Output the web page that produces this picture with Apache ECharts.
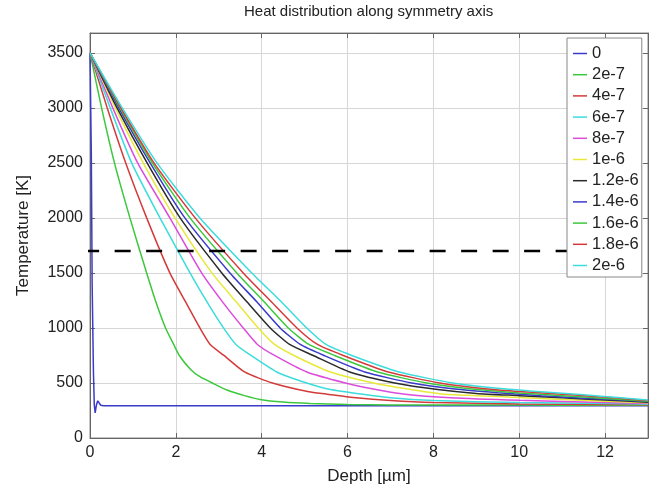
<!DOCTYPE html>
<html>
<head>
<meta charset="utf-8">
<title>Heat distribution along symmetry axis</title>
<script src="https://cdn.jsdelivr.net/npm/echarts@6/dist/echarts.min.js"></script>
<style>
  html, body { margin: 0; padding: 0; background: #fff; }
  #chart { width: 653px; height: 491px; }
</style>
</head>
<body>
<div id="chart"></div>
<script>
// legend labels (time of each profile) and matlab-ish line colours
const times = ['0', '2e-7', '4e-7', '6e-7', '8e-7', '1e-6', '1.2e-6', '1.4e-6', '1.6e-6', '1.8e-6', '2e-6'];
const colors = ['#3a3acb', '#3cc83c', '#d43a3a', '#3cdcdc', '#dc4cdc', '#e8e83a', '#2a2a2a', '#3a3acb', '#3cc83c', '#d43a3a', '#3cdcdc'];

// [depth µm, temperature K]
const t0 = [[0, 3500], [0.03, 2600], [0.05, 1400], [0.08, 600], [0.1, 300], [0.12, 228], [0.15, 300], [0.18, 338], [0.21, 320], [0.25, 298], [0.32, 293], [2, 293], [13, 293]];
const t2e7 = [[0, 3500], [0.27, 3000], [0.57, 2500], [0.93, 2000], [1.32, 1500], [1.55, 1220], [1.76, 1000], [1.95, 850], [2.08, 750], [2.35, 620], [2.56, 557], [2.9, 490], [3.19, 436], [3.6, 385], [3.96, 350], [4.5, 326], [5.13, 313], [6, 304], [7, 300], [8.5, 299], [10, 299], [12, 298], [13, 298]];
const t4e7 = [[0, 3500], [0.4, 3000], [0.83, 2500], [1.32, 2000], [1.86, 1500], [2.25, 1220], [2.56, 1000], [2.8, 850], [3.12, 750], [3.6, 600], [4.25, 500], [5.1, 420], [5.5, 400], [6.2, 365], [7, 340], [8, 322], [10, 310], [12, 305], [13, 302]];
const t6e7 = [[0, 3500], [0.47, 3000], [0.97, 2500], [1.63, 2000], [2.33, 1500], [2.75, 1220], [3.11, 1000], [3.4, 850], [3.75, 750], [4.35, 600], [5.05, 500], [5.6, 440], [6.3, 400], [7, 365], [8, 340], [10, 322], [12, 313], [13, 307]];
const t8e7 = [[0, 3500], [0.53, 3000], [1.11, 2500], [1.86, 2000], [2.6, 1500], [3.1, 1230], [3.57, 1000], [3.9, 850], [4.3, 750], [5.05, 600], [5.95, 500], [6.6, 445], [7.3, 400], [8.4, 365], [10, 342], [12, 323], [13, 313]];
const t1e6 = [[0, 3500], [0.59, 3000], [1.24, 2500], [1.98, 2000], [2.84, 1500], [3.4, 1240], [3.92, 1000], [4.3, 850], [4.75, 750], [5.6, 600], [6.6, 500], [7.4, 445], [8.2, 400], [9, 385], [10, 368], [11, 350], [12, 335], [13, 320]];
const t12e7 = [[0, 3500], [0.63, 3000], [1.33, 2500], [2.1, 2000], [3.07, 1500], [3.65, 1240], [4.2, 1000], [4.65, 850], [5.2, 750], [6.05, 600], [7.1, 500], [8.1, 440], [9, 405], [10, 385], [11, 365], [12, 345], [13, 325]];
const t14e7 = [[0, 3500], [0.67, 3000], [1.4, 2500], [2.21, 2000], [3.26, 1500], [3.88, 1240], [4.43, 1000], [4.9, 850], [5.45, 750], [6.4, 600], [7.5, 500], [8.5, 445], [9.5, 412], [10.5, 385], [11.5, 362], [12.5, 342], [13, 332]];
const t16e7 = [[0, 3500], [0.7, 3000], [1.45, 2500], [2.33, 2000], [3.42, 1500], [4.05, 1240], [4.62, 1000], [5.1, 850], [5.7, 750], [6.7, 600], [7.85, 500], [8.9, 445], [10, 410], [11, 385], [12, 360], [13, 335]];
const t18e7 = [[0, 3500], [0.72, 3000], [1.49, 2500], [2.45, 2000], [3.57, 1500], [4.22, 1240], [4.82, 1000], [5.3, 850], [5.9, 750], [6.95, 600], [8.15, 500], [9.2, 448], [10.3, 415], [11.3, 390], [12.2, 365], [13, 340]];
const t2e6 = [[0, 3500], [0.75, 3000], [1.56, 2500], [2.56, 2000], [3.77, 1500], [4.45, 1240], [5.05, 1000], [5.5, 850], [6.1, 750], [7.2, 600], [8.45, 500], [9.5, 452], [10.5, 420], [11.5, 392], [12.3, 368], [13, 345]];
const profiles = [t0, t2e7, t4e7, t6e7, t8e7, t1e6, t12e7, t14e7, t16e7, t18e7, t2e6];

// dashed reference level (starts a little left of the axis, like the original)
const dashLevel = 1700;
const dashFrom = -0.16;
const dashTo = 13;

const font = "'Liberation Sans', Arial, sans-serif";
const chart = echarts.init(document.getElementById('chart'), null, { renderer: 'canvas' });

let series = profiles.map((pts, i) => ({
  name: times[i],
  type: 'line',
  data: pts,
  symbol: 'none',
  showSymbol: false,
  smooth: i === 0 ? false : 0.2,
  lineStyle: { color: colors[i], width: 1.5 },
  itemStyle: { color: colors[i] },
  silent: true
}));
series.push({
  name: 'level',
  type: 'line',
  data: [[dashFrom, dashLevel], [dashTo, dashLevel]],
  symbol: 'none',
  clip: false,
  silent: true,
  lineStyle: { color: '#000', width: 2.5, type: [16, 15.5] }
});

const axisCommon = {
  type: 'value',
  axisLine: { show: true, onZero: false, lineStyle: { color: '#666', width: 1 } },
  axisTick: { show: true, inside: true, length: 5, lineStyle: { color: '#666' } }
};
const plain = v => String(v);

const option = {
  animation: false,
  backgroundColor: '#fff',
  title: {
    text: 'Heat distribution along symmetry axis',
    left: 244,
    top: 4,
    padding: 0,
    textStyle: { fontFamily: font, fontSize: 15, fontWeight: 'normal', color: '#222' }
  },
  grid: {
    left: 90, right: 5, top: 33, bottom: 53,
    show: true, borderColor: '#888', borderWidth: 1, backgroundColor: '#fff'
  },
  legend: {
    data: times,
    orient: 'vertical',
    left: 567,
    top: 38,
    icon: 'rect',
    itemWidth: 14,
    itemHeight: 1.5,
    itemGap: 4.2,
    padding: [7, 3, 3, 6],
    backgroundColor: '#fff',
    borderColor: '#888',
    borderWidth: 1,
    selectedMode: false,
    textStyle: { fontFamily: font, fontSize: 16.5, color: '#222' }
  },
  xAxis: [
    Object.assign({}, axisCommon, {
      min: 0, max: 13, interval: 2, position: 'bottom',
      name: 'Depth [µm]', nameLocation: 'middle', nameGap: 30,
      nameTextStyle: { fontFamily: font, fontSize: 17, color: '#222' },
      axisLabel: { showMaxLabel: false, formatter: plain, fontFamily: font, fontSize: 16, color: '#222', margin: 7 },
      splitLine: { show: true, lineStyle: { color: '#d6d6d6', width: 1 } }
    }),
    Object.assign({}, axisCommon, {
      min: 0, max: 13, interval: 2, position: 'top',
      axisLabel: { show: false }, splitLine: { show: false }
    })
  ],
  yAxis: [
    Object.assign({}, axisCommon, {
      min: 0, max: 3680, interval: 500, position: 'left',
      name: 'Temperature [K]', nameLocation: 'middle', nameGap: 58,
      nameTextStyle: { fontFamily: font, fontSize: 17, color: '#222' },
      axisLabel: { showMaxLabel: false, formatter: plain, fontFamily: font, fontSize: 16, color: '#222', margin: 7 },
      splitLine: { show: true, lineStyle: { color: '#d6d6d6', width: 1 } }
    }),
    Object.assign({}, axisCommon, {
      min: 0, max: 3680, interval: 500, position: 'right',
      axisLabel: { show: false }, splitLine: { show: false }
    })
  ],
  series: series
};

chart.setOption(option);
</script>
</body>
</html>
